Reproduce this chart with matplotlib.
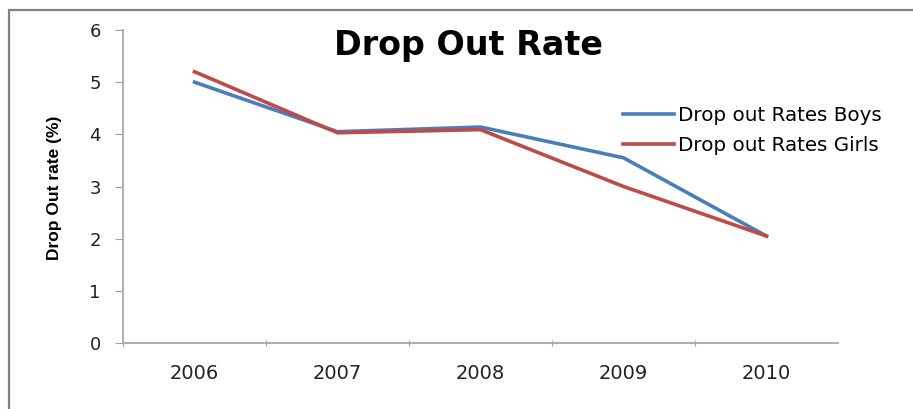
import matplotlib
matplotlib.use("Agg")
import matplotlib.pyplot as plt
from matplotlib.patches import Rectangle

years = ["2006", "2007", "2008", "2009", "2010"]
boys = [5.0, 4.05, 4.14, 3.55, 2.05]
girls = [5.2, 4.03, 4.09, 3.0, 2.05]
yticks = [0, 1, 2, 3, 4, 5, 6]

plt.rcParams['font.family'] = ['DejaVu Sans']
W, H = 913, 409
fig = plt.figure(figsize=(W/100, H/100), dpi=100)

# outer chart frame (cut off at right and bottom)
fig.patches.append(Rectangle((9/W, -0.1), 1.2, (H-10)/H + 0.1, transform=fig.transFigure,
                             fill=False, edgecolor='#808080', linewidth=1.6))

ax = fig.add_axes([123/W, 1-343/H, (838-123)/W, (343-30)/H])
x = list(range(len(years)))
ax.plot(x, boys, color='#4A7EBB', linewidth=2.6, label='Drop out Rates Boys')
ax.plot(x, girls, color='#BE4B48', linewidth=2.6, label='Drop out Rates Girls')

ax.set_xlim(-0.5, len(years) - 0.5)
ax.set_ylim(0, 6)
ax.set_yticks(yticks)
ax.set_yticklabels([str(v) for v in yticks], fontsize=13, color='#222222')
ax.set_xticks([i + 0.5 for i in range(-1, len(years) - 1)])
ax.set_xticklabels([])
ax.set_xticks(x, minor=True)
ax.set_xticklabels(years, minor=True, fontsize=14, color='#222222')
ax.tick_params(axis='x', which='minor', length=0, pad=15)
ax.tick_params(axis='x', which='major', length=5, direction='inout', color='#A0A0A0')
ax.tick_params(axis='y', length=6, color='#A0A0A0', pad=10)
for s in ['top', 'right']:
    ax.spines[s].set_visible(False)
for s in ['left', 'bottom']:
    ax.spines[s].set_color('#A8A8A8')
    ax.spines[s].set_linewidth(1.3)

fig.text(468/W, 1-46/H, 'Drop Out Rate', ha='center', va='center', fontsize=24, fontweight='bold')
fig.text(55/W, 1-188/H, 'Drop Out rate (%)', ha='center', va='center', rotation=90,
         fontsize=12.5, family=['Liberation Sans', 'DejaVu Sans'], fontweight='bold')

ax.legend(loc='upper left', bbox_to_anchor=(605/W, 1-88/H), bbox_transform=fig.transFigure,
          frameon=False, fontsize=14.3, handlelength=2.55, handletextpad=0.25, labelspacing=0.58)

fig.savefig('out.png', dpi=100)
